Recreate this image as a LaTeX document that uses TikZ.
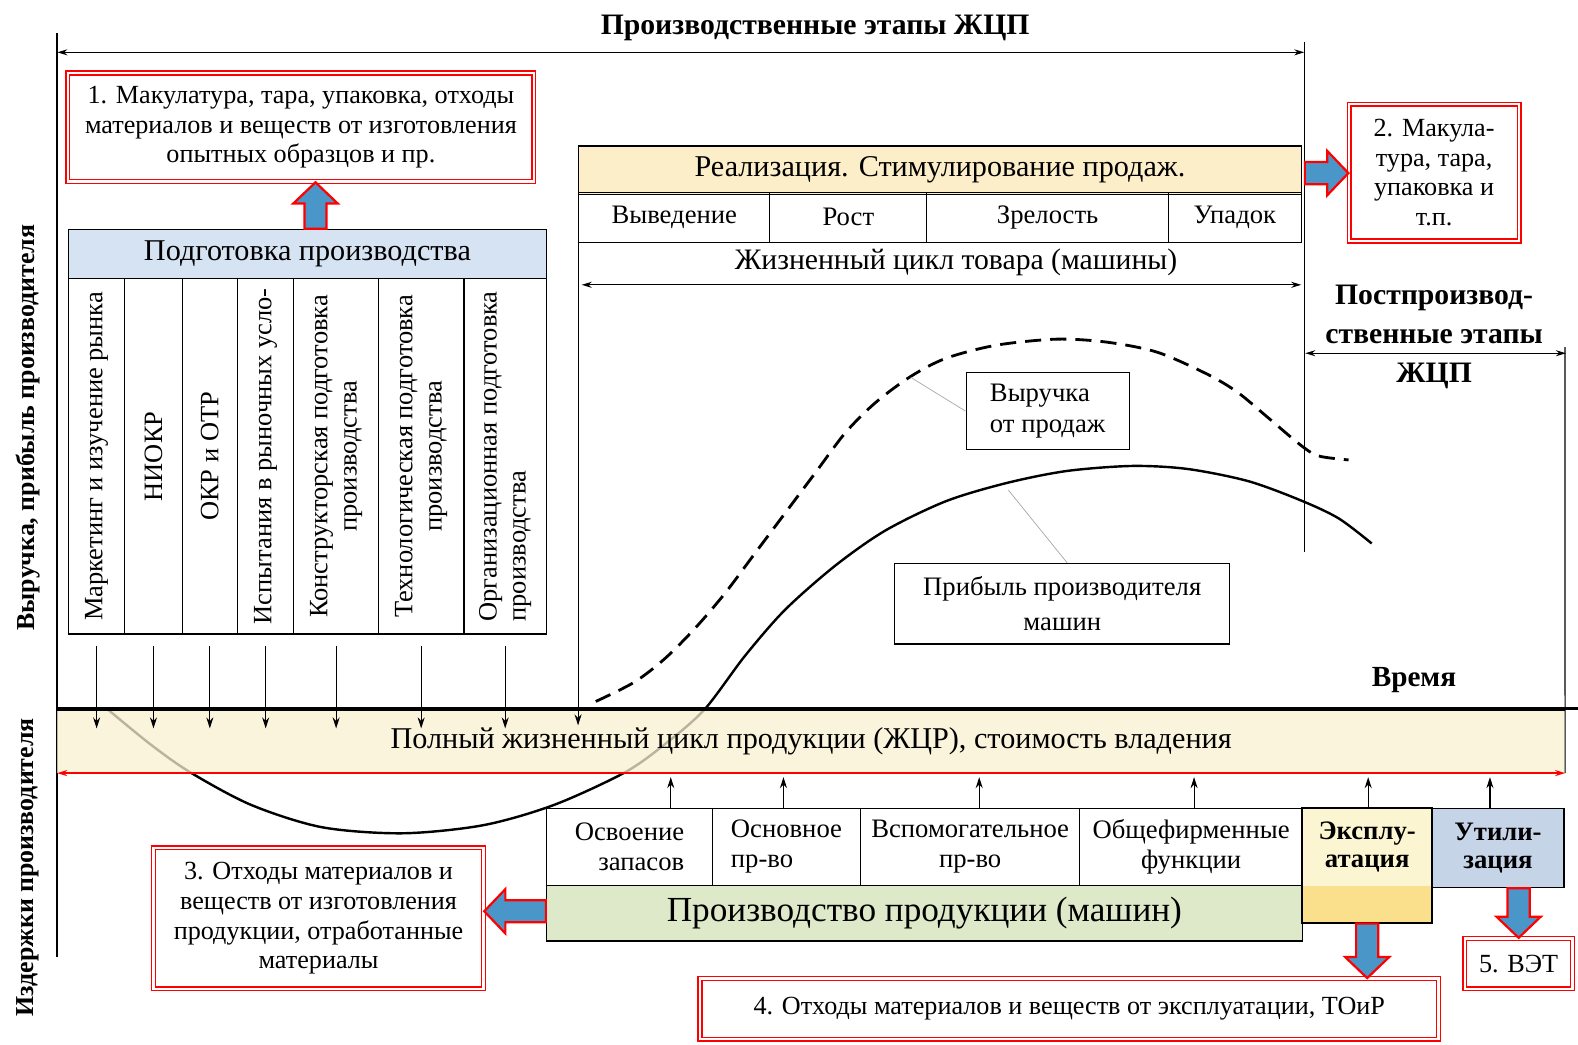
\documentclass[tikz,border=0pt]{standalone}
\usepackage{fontspec}
\setmainfont{Liberation Serif}
\usetikzlibrary{arrows.meta}
\usetikzlibrary{calc}

\definecolor{prepblue}{RGB}{214,227,243}
\definecolor{realyel}{RGB}{252,238,200}
\definecolor{bandyel}{RGB}{250,240,210}
\definecolor{prodgreen}{RGB}{221,233,200}
\definecolor{explA}{RGB}{252,245,210}
\definecolor{explB}{RGB}{250,224,140}
\definecolor{utlblue}{RGB}{198,212,232}
\definecolor{arrowblue}{RGB}{75,150,200}

\newcommand\fsz[2]{\fontsize{#1}{#2}\selectfont}

\tikzset{
  txt/.style={font=\fsz{26}{30}, inner sep=0pt},
  cellbox/.style={draw, line width=1.2pt, inner sep=0pt, font=\fsz{26.5}{30}},
  colbox/.style={cellbox, rotate=90, minimum width=353pt, align=center, font=\fsz{26.3}{29}},
  redbox/.style={draw=red, double=white, double distance=2.5pt, line width=1.3pt,
                 align=center, inner sep=0pt, font=\fsz{26}{29.5}},
  bold/.style={font=\fsz{26}{30}\bfseries, inner sep=0pt},
  thinarrow/.style={-{Stealth[length=11pt,width=7pt]}, line width=1.1pt},
  dims/.style={{Stealth[length=10pt,width=6pt]}-{Stealth[length=10pt,width=6pt]}, line width=1.1pt},
  redarr/.style={{Stealth[length=10pt,width=6pt]}-{Stealth[length=10pt,width=6pt]}, red, line width=1.8pt},
  fatarrow/.style={draw=red, line width=2.2pt, fill=arrowblue, line join=miter},
  leader/.style={gray!70, line width=0.7pt},
}

% block arrow from #1 to #2
\newcommand\fatarrow[2]{%
  \draw[fatarrow] let \p1=(#1), \p2=(#2),
      \n1={atan2(\y2-\y1,\x2-\x1)}, \n2={veclen(\x2-\x1,\y2-\y1)-21} in
    ($(\p1)+({\n1+90}:11pt)$) -- ($(\p1)+(\n1:\n2)+({\n1+90}:11pt)$)
    -- ($(\p1)+(\n1:\n2)+({\n1+90}:22pt)$) -- (\p2)
    -- ($(\p1)+(\n1:\n2)+({\n1-90}:22pt)$) -- ($(\p1)+(\n1:\n2)+({\n1-90}:11pt)$)
    -- ($(\p1)+({\n1-90}:11pt)$) -- cycle;}

\begin{document}
\begin{tikzpicture}[x=1pt, y=-1pt]
\useasboundingbox (0,0) rectangle (1568,1038);

% axes
\coordinate (yTop) at (57,33);
\coordinate (yBot) at (57,951);
\coordinate (tL) at (57,704);
\coordinate (tR) at (1568,704);
\draw[line width=2pt] (yTop) -- (yBot);
\draw[line width=2.8pt] (tL) -- (tR);
\node[bold, font=\fsz{25.7}{30}\bfseries, rotate=90] (ylab1) at (28,425) {Выручка, прибыль производителя};
\node[bold, font=\fsz{25.7}{30}\bfseries, rotate=90] (ylab2) at (28,862) {Издержки производителя};
\node[bold, font=\fsz{29}{33}\bfseries] (time) at (1405,676) {Время};

% curves
\draw[line width=2.4pt] plot[smooth] coordinates {(106,704) (150,740) (190,768) (250,800)
  (320,822) (400,828) (480,820) (550,800) (620,768) (660,740) (700,705) (740,652) (780,606)
  (830,562) (880,527) (940,498) (1000,480) (1060,468) (1125,463) (1180,466) (1240,478)
  (1292,497) (1330,515) (1363,540)};
\draw[line width=2.8pt, dash pattern=on 16pt off 9pt] plot[smooth] coordinates {(592,697)
  (630,678) (660,655) (690,625) (720,590) (750,550) (780,510) (810,470) (840,430) (870,400)
  (905,374) (940,356) (990,343) (1050,337) (1100,340) (1150,350) (1200,372) (1230,390)
  (1260,415) (1292,442) (1310,453) (1340,457)};
\coordinate (revpt) at (905,375);
\coordinate (profpt) at (1002,487);

% full life cycle band
\node[fill=bandyel, fill opacity=0.75, text opacity=1, minimum width=1498pt, minimum height=62pt,
      font=\fsz{30}{34}, inner sep=0pt] (band) at (806,737)
  {Полный жизненный цикл продукции (ЖЦР), стоимость владения};
\draw[line width=1pt] (band.north west) -- (band.north east);
\draw[redarr] (band.south west) -- (band.south east);

% production stages
\node[bold, font=\fsz{29.5}{34}\bfseries] (title) at (810,28) {Производственные этапы ЖЦП};
\coordinate (topL) at (57,52);
\coordinate (topR) at (1296,52);
\draw[dims] (topL) -- (topR);
\coordinate (sepT) at (1296,42);
\coordinate (sepB) at (1296,548);
\draw[line width=1.2pt] (sepT) -- (sepB);

\node[redbox, minimum width=463pt, minimum height=108pt] (w1) at (299,126.5)
  {1. Макулатура, тара, упаковка, отходы\\материалов и веществ от изготовления\\опытных образцов и пр.};

% preparation of production
\node[cellbox, fill=prepblue, minimum width=475pt, minimum height=49pt, font=\fsz{30}{34}] (preph)
  at (305.5,252.5) {Подготовка производства};
\node[colbox, minimum height=56pt] (c1) at (96,453.5) {Маркетинг и изучение рынка};
\node[colbox, minimum height=57pt] (c2) at (152.5,453.5) {НИОКР};
\node[colbox, minimum height=55pt] (c3) at (208.5,453.5) {ОКР и ОТР};
\node[colbox, minimum height=56pt] (c4) at (264,453.5) {Испытания в рыночных усло-};
\node[colbox, minimum height=84pt] (c5) at (334,453.5) {Конструкторская подготовка\\производства};
\node[colbox, minimum height=85pt] (c6) at (418.5,453.5) {Технологическая подготовка\\производства};
\node[colbox, minimum height=82pt, align=left] (c7) at (502,453.5) {Организационная подготовка\\производства};
\foreach \c in {c1,c2,c3,c4,c5,c6,c7}
  \draw[thinarrow] ([yshift=-11pt]\c.west) -- ($(\c.west |- band.north)+(0,18)$);
\fatarrow{$(preph.north)+(8,0)$}{$(preph.north |- w1.south)+(8,0)$}

% realization
\node[cellbox, fill=realyel, minimum width=718pt, minimum height=48pt, font=\fsz{30}{34}] (real)
  at (934,169) {Реализация. Стимулирование продаж.};
\node[cellbox, minimum width=190pt, minimum height=50pt] (vyv) at (670,216) {Выведение};
\node[cellbox, minimum width=156pt, minimum height=50pt] (rost) at (843,216) {Рост};
\node[cellbox, minimum width=240pt, minimum height=50pt] (zrel) at (1041,216) {Зрелость};
\node[cellbox, minimum width=132pt, minimum height=50pt] (upad) at (1227,216) {Упадок};
\node[txt, font=\fsz{29.5}{33}] (lc) at (950,261) {Жизненный цикл товара (машины)};
\coordinate (lcL) at (578,283);
\coordinate (lcR) at (1293,283);
\draw[dims] (lcL) -- (lcR);
\draw[thinarrow] (real.north west) -- ($(real.north west |- band.north)+(0,15)$);

\node[redbox, minimum width=169pt, minimum height=136pt] (w2) at (1425,171.5)
  {2. Макула-\\тура, тара,\\упаковка и\\т.п.};
\fatarrow{$(real.east)+(3,3)$}{$(real.east -| w2.west)+(0,3)$}

% post-production stages
\node[font=\fsz{29.5}{39}\bfseries, align=center, inner sep=0pt] (post) at (1425,335)
  {Постпроизвод-\\ственные этапы\\ЖЦП};
\coordinate (postL) at (1297,351);
\coordinate (postR) at (1556,351);
\draw[dims] (postL) -- (postR);
\coordinate (rT) at (1555,345);
\draw[line width=1.2pt] (rT) -- (band.south east);

% curve labels
\node[cellbox, align=left, minimum width=162pt, minimum height=77pt] (rev) at (1041,408.5)
  {Выручка\\от продаж};
\node[cellbox, align=center, minimum width=333pt, minimum height=80pt, font=\fsz{26.5}{35}] (prof)
  at (1055.5,600) {Прибыль производителя\\машин};
\draw[leader] (revpt) -- (rev.west);
\draw[leader] (profpt) -- ([xshift=5pt]prof.north);

% production of goods
\node[cellbox, minimum width=165pt, minimum height=77pt, align=right] (osv) at (625.5,841.5)
  {Освоение\\запасов};
\node[cellbox, minimum width=147pt, minimum height=77pt, align=left] (osn) at (781.5,841.5)
  {Основное\\пр-во};
\node[cellbox, minimum width=218pt, minimum height=77pt, align=center] (vsp) at (964,841.5)
  {Вспомогательное\\пр-во};
\node[cellbox, minimum width=221pt, minimum height=77pt, align=center] (obs) at (1183.5,841.5)
  {Общефирменные\\функции};
\node[cellbox, fill=prodgreen, minimum width=751pt, minimum height=55pt, font=\fsz{35}{38}] (prod)
  at (918.5,907.5) {Производство продукции (машин)};
\node[cellbox, fill=explA, minimum width=129pt, minimum height=114pt,
      path picture={\fill[explB] ([yshift=37pt]path picture bounding box.south west)
                    rectangle (path picture bounding box.south east);}] (expl) at (1358.5,860) {};
\draw[line width=1.2pt] (expl.north west) rectangle (expl.south east);
\node[font=\fsz{26.5}{28}\bfseries, align=center, inner sep=0pt] (explT) at (1358.5,842) {Эксплу-\\атация};
\node[cellbox, fill=utlblue, minimum width=131pt, minimum height=79pt, align=center,
      font=\fsz{26.5}{28}\bfseries] (utl) at (1488.5,842.5) {Утили-\\зация};
\foreach \c/\dx in {osv/41, osn/-3, vsp/9, obs/3, expl/1, utl/-8}
  \draw[thinarrow] ($(\c.north)+(\dx,0)$) -- ($(\c.north |- band.south)+(\dx,4)$);

% wastes
\node[redbox, minimum width=328pt, minimum height=140pt] (w3) at (316.5,912.5)
  {3. Отходы материалов и\\веществ от изготовления\\продукции, отработанные\\материалы};
\fatarrow{$(prod.west)+(0,-2)$}{$(prod.west -| w3.east)+(0,-2)$}
\node[redbox, minimum width=734pt, minimum height=60pt] (w4) at (1062.5,1002.5)
  {4. Отходы материалов и веществ от эксплуатации, ТОиР};
\fatarrow{expl.south}{expl.south |- w4.north}
\node[redbox, minimum width=107pt, minimum height=50pt] (w5) at (1509,957.5) {5. ВЭТ};
\fatarrow{utl.south -| w5.north}{w5.north}
\end{tikzpicture}
\end{document}
